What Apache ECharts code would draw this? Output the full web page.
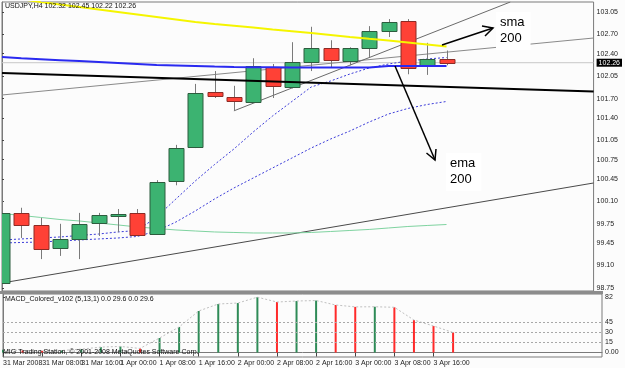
<!DOCTYPE html>
<html><head><meta charset="utf-8">
<script src="https://cdn.jsdelivr.net/npm/echarts@6/dist/echarts.min.js"></script>
<style>html,body{margin:0;padding:0;background:#fcfcfc}#c{width:625px;height:368px}</style>
</head><body><div id="c"></div>
<script>
// ---- data ----
const symbolTitle = 'USDJPY,H4 102.32 102.45 102.22 102.26';
const macdTitle = 'MACD_Colored_v102 (5,13,1) 0.0 29.6 0.0 29.6';
const footer = 'MIG Trading Station, \u00a9 2001-2008 MetaQuotes Software Corp.';
const bars = [0,1,2,3,4,5,6,7,8,9,10,11,12,13,14,15,16,17,18,19,20,21,22,23];
const opens  = [98.83,99.92,99.73,99.37,99.51,99.76,99.87,99.92,99.59,100.42,100.95,101.80,101.73,101.65,102.19,101.88,102.27,102.49,102.29,102.49,102.75,102.91,102.21,102.32];
const highs  = [100.16,100.00,99.84,99.75,99.92,99.92,99.98,99.98,100.43,100.98,101.93,102.13,101.90,102.33,102.24,102.58,102.82,102.61,102.50,102.83,102.94,102.94,102.57,102.45];
const lows   = [98.78,99.53,99.20,99.25,99.20,99.56,99.62,99.57,99.58,100.35,100.93,101.71,101.51,101.65,101.71,101.86,102.13,102.19,102.22,102.35,102.66,102.08,102.07,102.22];
const closes = [99.92,99.73,99.36,99.51,99.75,99.89,99.90,99.58,100.40,100.93,101.79,101.74,101.66,102.21,101.90,102.27,102.49,102.30,102.49,102.75,102.89,102.18,102.32,102.26];
const smaYellow = [null,103.25,103.206,103.167,103.128,103.089,103.050,103.011,102.972,102.933,102.894,102.863,102.837,102.809,102.777,102.751,102.723,102.692,102.661,102.632,102.606,102.575,102.544,102.513];
const emaBlue = [102.349,102.33,102.315,102.30,102.285,102.27,102.255,102.24,102.225,102.217,102.209,102.20,102.193,102.19,102.19,102.185,102.185,102.185,102.185,102.185,102.209,102.209,102.209,102.209];
const maGreen = [99.911,99.880,99.849,99.817,99.794,99.763,99.732,99.701,99.677,99.654,99.638,99.623,99.615,99.607,99.607,99.607,99.615,99.630,99.646,99.662,99.685,99.708,99.724,99.739];
const maFastDot = [99.498,99.514,99.529,99.545,99.568,99.591,99.623,99.646,99.856,100.137,100.417,100.674,100.916,101.181,101.430,101.656,101.882,101.975,102.084,102.178,102.240,102.287,102.318,102.341];
const maSlowDot = [99.451,99.459,99.467,99.482,99.498,99.514,99.529,99.553,99.638,99.778,99.950,100.137,100.308,100.464,100.620,100.775,100.931,101.071,101.196,101.336,101.461,101.547,101.609,101.656];
// trendlines: [barIndex, price] endpoints
const trendBlack = [[0,102.10],[30.61,101.81]];
const trendGreyA = [[0,101.757],[30.61,102.645]];
const trendGreyB = [[12,101.51],[26.3,103.206]];
const trendDarkC = [[0,98.828],[30.61,100.386]];
const lastPrice = 102.26;
const macd = [4,3,2.5,3,5,8,9,6,21.5,37.8,61.5,71.9,73.3,82,74.8,76.3,77,70.4,67.6,67.8,67.0,48.1,39.3,29.6];
const macdLevels = [15,30,45];
const priceTicks = [98.75,99.10,99.45,99.75,100.10,100.45,100.75,101.05,101.40,101.70,102.05,102.40,102.70,103.05];
const macdTicks = [0,15,30,45,82];
const timeTickBars = [0,2,4,6,8,10,12,14,16,18,20,22];
const timeTickLabels = ['31 Mar 2008','31 Mar 08:00','31 Mar 16:00','1 Apr 00:00','1 Apr 08:00','1 Apr 16:00','2 Apr 00:00','2 Apr 08:00','2 Apr 16:00','3 Apr 00:00','3 Apr 08:00','3 Apr 16:00'];

// ---- chart ----
const FONT = "'Liberation Sans Narrow','Liberation Sans',sans-serif";
const FS = 7;
const XMAX = 30.61;
const candleData = bars.map(i => [i, opens[i], closes[i], lows[i], highs[i]]);
const pair = arr => bars.map(i => [i, arr[i]]);
const macdData = bars.map(i => ({
  value: [i, macd[i]],
  itemStyle: {color: (i > 0 && macd[i] < macd[i-1]) ? '#ff2a2a' : '#2e8b57'}
}));
const priceLabelValues = priceTicks.concat([lastPrice]);

const chart = echarts.init(document.getElementById('c'), null, {renderer: 'canvas'});
const lineBase = {type: 'line', xAxisIndex: 0, yAxisIndex: 0, showSymbol: false, symbol: 'none', silent: true, clip: true, animation: false};

chart.setOption({
  animation: false,
  backgroundColor: '#fcfcfc',
  grid: [
    {left: 2, top: 2, width: 600, height: 289, show: true, borderColor: '#7a7a7a', borderWidth: 1, backgroundColor: 'transparent'},
    {left: 2, top: 294, width: 600, height: 63, show: true, borderColor: '#7a7a7a', borderWidth: 1, backgroundColor: 'transparent'}
  ],
  xAxis: [
    {type: 'value', gridIndex: 0, min: 0, max: XMAX, show: false},
    {type: 'value', gridIndex: 1, min: 0, max: XMAX, position: 'bottom',
     axisLine: {show: true, lineStyle: {color: '#7a7a7a'}},
     axisTick: {show: true, customValues: timeTickBars, length: 4, lineStyle: {color: '#444'}},
     axisLabel: {customValues: timeTickBars, align: 'left', margin: 3, fontSize: FS, fontFamily: FONT, color: '#222',
       showMinLabel: true, showMaxLabel: true, hideOverlap: false,
       formatter: v => timeTickLabels[timeTickBars.indexOf(Math.round(v))] || ''},
     splitLine: {show: false}}
  ],
  yAxis: [
    {type: 'value', gridIndex: 0, position: 'right', min: 98.703, max: 103.206,
     axisLine: {show: true, lineStyle: {color: '#7a7a7a'}},
     axisTick: {show: true, customValues: priceTicks, length: 2, lineStyle: {color: '#444'}},
     axisLabel: {customValues: priceLabelValues, margin: 3, fontSize: FS, fontFamily: FONT, color: '#222',
       showMinLabel: true, showMaxLabel: true, hideOverlap: false,
       formatter: v => Math.abs(v - lastPrice) < 1e-6 ? '{cur|' + v.toFixed(2) + '}' : v.toFixed(2),
       rich: {cur: {backgroundColor: '#000', color: '#fff', fontSize: FS, fontFamily: FONT, padding: [1, 2, 0, 2]}}},
     splitLine: {show: false}},
    {type: 'value', gridIndex: 1, position: 'right', min: -6.67, max: 86.7,
     axisLine: {show: true, lineStyle: {color: '#7a7a7a'}},
     axisTick: {show: true, customValues: macdTicks, length: 2, lineStyle: {color: '#444'}},
     axisLabel: {customValues: macdTicks, margin: 3, fontSize: FS, fontFamily: FONT, color: '#222',
       showMinLabel: true, showMaxLabel: true, hideOverlap: false,
       formatter: v => v === 0 ? '0.00' : String(v)},
     splitLine: {show: false}}
  ],
  series: [
    Object.assign({}, lineBase, {data: [[0, lastPrice],[XMAX, lastPrice]], lineStyle: {color: '#c8c8c8', width: 1}, z: 1}),
    Object.assign({}, lineBase, {data: trendDarkC, lineStyle: {color: '#4a4a4a', width: 1}, z: 2}),
    Object.assign({}, lineBase, {data: trendGreyA, lineStyle: {color: '#8a8a8a', width: 1}, z: 2}),
    Object.assign({}, lineBase, {data: trendGreyB, lineStyle: {color: '#6a6a6a', width: 1}, z: 2}),
    Object.assign({}, lineBase, {data: pair(maGreen), lineStyle: {color: '#7fd3a0', width: 1}, z: 3}),
    Object.assign({}, lineBase, {data: pair(maSlowDot), lineStyle: {color: '#3b3bd9', width: 1, type: [2, 2]}, z: 3}),
    Object.assign({}, lineBase, {data: pair(maFastDot), lineStyle: {color: '#3b3bd9', width: 1, type: [2, 2]}, z: 3}),
    {type: 'custom', xAxisIndex: 0, yAxisIndex: 0, data: candleData, clip: true, silent: true, z: 5,
     encode: {x: 0, y: [1, 2, 3, 4]},
     renderItem: function (params, api) {
       const x = api.value(0), o = api.value(1), c = api.value(2), l = api.value(3), h = api.value(4);
       const pO = api.coord([x, o]), pC = api.coord([x, c]), pL = api.coord([x, l]), pH = api.coord([x, h]);
       const up = c >= o, w = 15;
       const cx = Math.round(pO[0]) + 0.5;
       const top = Math.round(Math.min(pO[1], pC[1])) + 0.5, bot = Math.round(Math.max(pO[1], pC[1])) + 0.5;
       return {type: 'group', children: [
         {type: 'line', shape: {x1: cx, y1: pH[1], x2: cx, y2: pL[1]}, style: {stroke: '#7a7a7a', lineWidth: 1}},
         {type: 'rect', shape: {x: cx - 7.5, y: top, width: w, height: Math.max(bot - top, 1)},
          style: {fill: up ? '#3cb371' : '#ff4136', stroke: up ? '#2d5c3e' : '#8c2b25', lineWidth: 1}}
       ]};
     }},
    Object.assign({}, lineBase, {data: pair(emaBlue), lineStyle: {color: '#2a2af0', width: 2}, z: 6}),
    Object.assign({}, lineBase, {data: pair(smaYellow), lineStyle: {color: '#f5f500', width: 2}, z: 6}),
    Object.assign({}, lineBase, {data: trendBlack, lineStyle: {color: '#000', width: 2}, z: 6}),
    {type: 'bar', xAxisIndex: 1, yAxisIndex: 1, data: macdData, barWidth: 2, silent: true, z: 3,
     markLine: {silent: true, symbol: 'none', animation: false, label: {show: false},
       lineStyle: {color: '#a8a8a8', type: [2, 2], width: 1}, data: macdLevels.map(v => ({yAxis: v}))}},
    {type: 'line', xAxisIndex: 1, yAxisIndex: 1, data: bars.map(i => [i, macd[i]]), showSymbol: false, symbol: 'none', silent: true, clip: true,
     lineStyle: {color: '#c0c0c0', width: 1, type: [2, 2]}, z: 4}
  ],
  graphic: [
    {type: 'rect', shape: {x: 0, y: 291, width: 603, height: 3}, style: {fill: '#8c8c8c'}, z: 100},
    {type: 'text', left: 5, top: 3, style: {text: symbolTitle, fontSize: FS, fontFamily: FONT, fill: '#111'}, z: 100},
    {type: 'text', left: 5, top: 296, style: {text: macdTitle, fontSize: FS, fontFamily: FONT, fill: '#111'}, z: 100},
    {type: 'text', left: 3, top: 349, style: {text: footer, fontSize: FS, fontFamily: FONT, fill: '#111'}, z: 100},
    {type: 'text', x: 496, y: 12, style: {text: 'sma\n200', fontSize: 13, lineHeight: 16, fontFamily: 'Liberation Sans, sans-serif', fill: '#000', backgroundColor: '#fff', padding: [2, 6, 4, 4]}, z: 100},
    {type: 'text', x: 446, y: 153, style: {text: 'ema\n200', fontSize: 13, lineHeight: 16, fontFamily: 'Liberation Sans, sans-serif', fill: '#000', backgroundColor: '#fff', padding: [2, 6, 4, 4]}, z: 100},
    {type: 'polyline', shape: {points: [[442, 45], [493, 28]]}, style: {stroke: '#000', lineWidth: 1.5, fill: null}, z: 100},
    {type: 'polyline', shape: {points: [[482, 26], [493, 28], [485, 36]]}, style: {stroke: '#000', lineWidth: 1.5, fill: null}, z: 100},
    {type: 'polyline', shape: {points: [[395, 66], [435, 160]]}, style: {stroke: '#000', lineWidth: 1.5, fill: null}, z: 100},
    {type: 'polyline', shape: {points: [[436, 149], [435, 160], [426.5, 153]]}, style: {stroke: '#000', lineWidth: 1.5, fill: null}, z: 100}
  ]
});
</script></body></html>
